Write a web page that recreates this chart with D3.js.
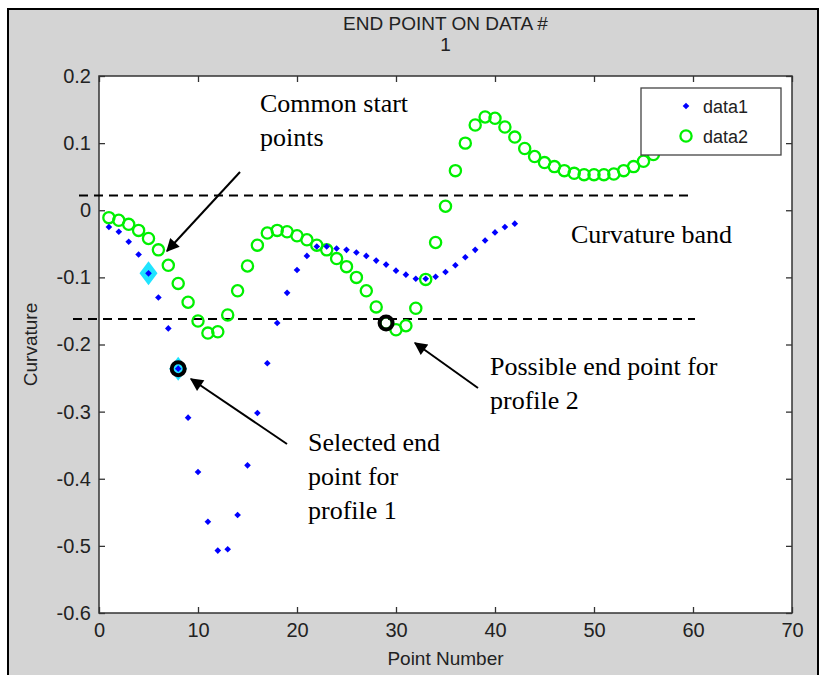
<!DOCTYPE html>
<html>
<head>
<meta charset="utf-8">
<script src="https://cdn.jsdelivr.net/npm/d3@7"></script>
<style>
  body { margin: 0; background: #fff; }
  text { font-family: "Liberation Sans", Arial, sans-serif; }
  .note { font-family: "Liberation Serif", "Times New Roman", serif; font-size: 26px; fill: #000; }
</style>
</head>
<body>
<svg id="chart"></svg>
<script>
// curvature per point number
var data1 = [-0.025, -0.032, -0.047, -0.066, -0.094, -0.130, -0.176, -0.236, -0.309, -0.390,
             -0.464, -0.507, -0.505, -0.454, -0.380, -0.302, -0.228, -0.168, -0.123, -0.089,
             -0.068, -0.054, -0.054, -0.057, -0.059, -0.063, -0.068, -0.075, -0.081, -0.090,
             -0.096, -0.102, -0.102, -0.099, -0.092, -0.082, -0.070, -0.059, -0.045, -0.033,
             -0.025, -0.020];
var data2 = [-0.011, -0.015, -0.021, -0.030, -0.042, -0.059, -0.082, -0.109, -0.137, -0.165,
             -0.183, -0.181, -0.156, -0.120, -0.083, -0.052, -0.034, -0.030, -0.032, -0.038,
             -0.044, -0.052, -0.059, -0.072, -0.084, -0.100, -0.120, -0.144, -0.168, -0.178,
             -0.172, -0.146, -0.103, -0.048, 0.006, 0.059, 0.100, 0.127, 0.139, 0.137,
             0.124, 0.109, 0.092, 0.080, 0.071, 0.065, 0.059, 0.055, 0.053, 0.053,
             0.053, 0.054, 0.059, 0.065, 0.073, 0.083, 0.094, 0.106];
var seriesNames = ['data1', 'data2'];
var xTicks = [0, 10, 20, 30, 40, 50, 60, 70];
var yTicks = [0.2, 0.1, 0, -0.1, -0.2, -0.3, -0.4, -0.5, -0.6];
var bandLimits = [0.022, -0.162];
var startPoint = 5;          // cyan diamond on data1
var selectedEnd = 8;         // profile 1
var possibleEnd = 29;        // profile 2
var titleLines = ['END POINT ON DATA #', '1'];

var W = 821, H = 675;
var margin = { top: 76, right: 29, bottom: 62, left: 99 };

var svg = d3.select('#chart').attr('width', W).attr('height', H);

svg.append('defs').append('marker')
    .attr('id', 'arrow')
    .attr('viewBox', '0 0 10 10')
    .attr('refX', 9).attr('refY', 5)
    .attr('markerWidth', 17).attr('markerHeight', 13)
    .attr('markerUnits', 'userSpaceOnUse')
    .attr('orient', 'auto')
    .append('path').attr('d', 'M0,0 L10,5 L0,10 z').attr('fill', '#000');

// grey figure window
svg.append('rect')
    .attr('x', 8).attr('y', 9).attr('width', 810).attr('height', 680)
    .attr('fill', '#d4d4d4').attr('stroke', '#000').attr('stroke-width', 2);

var x = d3.scaleLinear().domain([0, 70]).range([margin.left, W - margin.right]);
var y = d3.scaleLinear().domain([-0.6, 0.2]).range([H - margin.bottom, margin.top]);

svg.append('rect')
    .attr('x', x(0)).attr('y', y(0.2))
    .attr('width', x(70) - x(0)).attr('height', y(-0.6) - y(0.2))
    .attr('fill', '#fff');

// axes with inward ticks on all four sides
var fmt = d => String(d);
svg.append('g').attr('class', 'xb')
    .attr('transform', 'translate(0,' + y(-0.6) + ')')
    .call(d3.axisBottom(x).tickValues(xTicks).tickSizeInner(-6).tickSizeOuter(0).tickPadding(10).tickFormat(fmt));
svg.append('g').attr('class', 'xt')
    .attr('transform', 'translate(0,' + y(0.2) + ')')
    .call(d3.axisTop(x).tickValues(xTicks).tickSizeInner(-6).tickSizeOuter(0).tickFormat(''));
svg.append('g').attr('class', 'yl')
    .attr('transform', 'translate(' + x(0) + ',0)')
    .call(d3.axisLeft(y).tickValues(yTicks).tickSizeInner(-6).tickSizeOuter(0).tickPadding(8).tickFormat(fmt));
svg.append('g').attr('class', 'yr')
    .attr('transform', 'translate(' + x(70) + ',0)')
    .call(d3.axisRight(y).tickValues(yTicks).tickSizeInner(-6).tickSizeOuter(0).tickFormat(''));

svg.selectAll('.domain').remove();
svg.selectAll('.tick line').attr('stroke', '#333').attr('stroke-width', 1.3);
svg.selectAll('.tick text').attr('font-size', 20).attr('fill', '#222');

svg.append('rect')
    .attr('x', x(0)).attr('y', y(0.2))
    .attr('width', x(70) - x(0)).attr('height', y(-0.6) - y(0.2))
    .attr('fill', 'none').attr('stroke', '#333').attr('stroke-width', 1.5);

// title and axis labels
svg.selectAll('.title').data(titleLines).enter().append('text')
    .attr('class', 'title')
    .attr('x', (x(0) + x(70)) / 2)
    .attr('y', (d, i) => 30 + i * 21)
    .attr('text-anchor', 'middle')
    .attr('font-size', 19).attr('fill', '#222')
    .text(d => d);

svg.append('text')
    .attr('x', (x(0) + x(70)) / 2).attr('y', 665)
    .attr('text-anchor', 'middle').attr('font-size', 19).attr('fill', '#222')
    .text('Point Number');

svg.append('text')
    .attr('transform', 'translate(37,' + (y(0.2) + y(-0.6)) / 2 + ') rotate(-90)')
    .attr('text-anchor', 'middle').attr('font-size', 19).attr('fill', '#222')
    .text('Curvature');

// curvature band limits (dashed)
var bandX = [[79, 688], [73, 695]];
svg.selectAll('.band').data(bandLimits).enter().append('line')
    .attr('class', 'band')
    .attr('x1', (d, i) => bandX[i][0]).attr('x2', (d, i) => bandX[i][1])
    .attr('y1', d => y(d)).attr('y2', d => y(d))
    .attr('stroke', '#000').attr('stroke-width', 1.8).attr('stroke-dasharray', '9,6');

// data2 circles
svg.selectAll('.d2').data(data2).enter().append('circle')
    .attr('class', 'd2')
    .attr('cx', (d, i) => x(i + 1)).attr('cy', d => y(d))
    .attr('r', 5.6)
    .attr('fill', 'none').attr('stroke', '#00f000').attr('stroke-width', 2.3);

// highlighted start/end points of data1 (cyan)
var bigDiamond = d3.symbol().type(d3.symbolDiamond).size(166);
svg.selectAll('.cy').data([startPoint, selectedEnd]).enter().append('path')
    .attr('class', 'cy')
    .attr('d', bigDiamond)
    .attr('transform', d => 'translate(' + x(d) + ',' + y(data1[d - 1]) + ') scale(1.3,1)')
    .attr('fill', '#1fe4ff');

// data1 diamonds
var smallDiamond = d3.symbol().type(d3.symbolSquare).size(22);
svg.selectAll('.d1').data(data1).enter().append('path')
    .attr('class', 'd1')
    .attr('d', smallDiamond)
    .attr('transform', (d, i) => 'translate(' + x(i + 1) + ',' + y(d) + ') rotate(45)')
    .attr('fill', '#0000ff');

// black rings on end points
var ends = [{ n: selectedEnd, v: data1[selectedEnd - 1] }, { n: possibleEnd, v: data2[possibleEnd - 1] }];
svg.selectAll('.ring').data(ends).enter().append('circle')
    .attr('class', 'ring')
    .attr('cx', d => x(d.n)).attr('cy', d => y(d.v))
    .attr('r', 6.5)
    .attr('fill', 'none').attr('stroke', '#000').attr('stroke-width', 4);

// legend
var lg = svg.append('g').attr('transform', 'translate(641,88)');
lg.append('rect').attr('width', 140).attr('height', 67)
    .attr('fill', '#fff').attr('stroke', '#444').attr('stroke-width', 1.3);
lg.append('path').attr('d', smallDiamond).attr('transform', 'translate(45,18) rotate(45)').attr('fill', '#0000ff');
lg.append('circle').attr('cx', 45).attr('cy', 48).attr('r', 5.6)
    .attr('fill', 'none').attr('stroke', '#00f000').attr('stroke-width', 2.3);
lg.selectAll('.lt').data(seriesNames).enter().append('text')
    .attr('x', 62).attr('y', (d, i) => 25 + i * 30)
    .attr('font-size', 18).attr('fill', '#222')
    .text(d => d);

// annotations
function note(lines, x0, y0) {
    svg.append('text').attr('class', 'note')
        .selectAll('tspan').data(lines).enter().append('tspan')
        .attr('x', x0).attr('y', (d, i) => y0 + i * 34)
        .text(d => d);
}
function arrow(x1, y1, x2, y2) {
    svg.append('line')
        .attr('x1', x1).attr('y1', y1).attr('x2', x2).attr('y2', y2)
        .attr('stroke', '#000').attr('stroke-width', 2)
        .attr('marker-end', 'url(#arrow)');
}
note(['Common start', 'points'], 260, 112);
arrow(240, 172, 167, 251);
note(['Curvature band'], 571, 243);
note(['Possible end point for', 'profile 2'], 490, 375);
arrow(478, 388, 415, 343);
note(['Selected end', 'point for', 'profile 1'], 308, 451);
arrow(287, 444, 191, 379);
</script>
</body>
</html>
